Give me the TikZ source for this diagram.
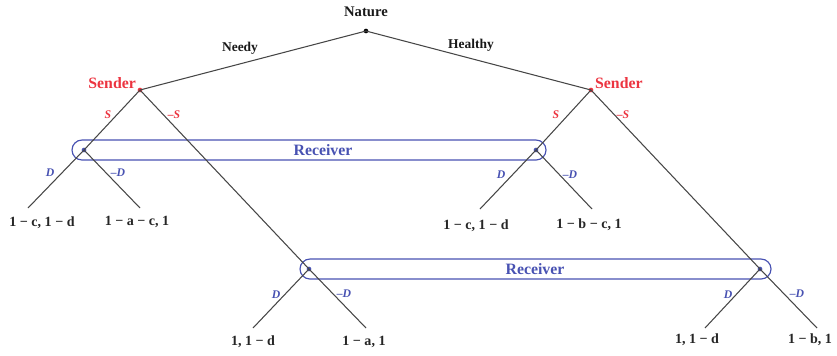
\documentclass[tikz,border=0pt]{standalone}
\usepackage{fontspec}
\setmainfont{Liberation Serif}
\usepackage{xcolor}
\usetikzlibrary{positioning, calc}

\definecolor{sendred}{RGB}{236,52,64}
\definecolor{recblue}{RGB}{72,82,178}
\definecolor{edgegray}{RGB}{70,70,70}

\begin{document}
\begin{tikzpicture}[x=0.03cm, y=-0.03cm,
    dot/.style={circle, inner sep=0pt, minimum size=4pt, fill=#1},
    edge/.style={draw=edgegray, line width=0.9pt},
    infoset/.style={draw=recblue, line width=1pt, rounded corners=0.3cm},
    payoff/.style={font=\fontsize{12}{14}\selectfont\bfseries, text=black!85},
    chance/.style={font=\fontsize{12.5}{14}\selectfont\bfseries, text=black!90},
    player/.style={font=\fontsize{13.5}{16}\selectfont\bfseries, text=#1},
    act/.style={font=\fontsize{10}{12}\selectfont\bfseries\itshape, text=#1},
]
\useasboundingbox (0,0) rectangle (837,355);

% decision nodes
\node[dot=black] (nat) at (366,31) {};
\node[dot=sendred] (sndL) at (140,90) {};
\node[dot=sendred] (sndR) at (591,90) {};
\node[dot=recblue] (rcvA) at (84,150) {};
\node[dot=recblue] (rcvB) at (536,150) {};
\node[dot=recblue] (rcvC) at (309,269) {};
\node[dot=recblue] (rcvD) at (760,269) {};

% leaves
\coordinate (lfA1) at (28,208);
\coordinate (lfA2) at (140,208);
\coordinate (lfB1) at (480,209);
\coordinate (lfB2) at (592,209);
\coordinate (lfC1) at (253,328);
\coordinate (lfC2) at (366,328);
\coordinate (lfD1) at (705,328);
\coordinate (lfD2) at (817,328);

% information sets
\draw[infoset] (72,140) rectangle (546,160);
\draw[infoset] (300,259) rectangle (771,279);

% edges
\draw[edge] (nat.center) -- (sndL.center);
\draw[edge] (nat.center) -- (sndR.center);
\draw[edge] (sndL.center) -- (rcvA.center);
\draw[edge] (sndL.center) -- (rcvC.center);
\draw[edge] (sndR.center) -- (rcvB.center);
\draw[edge] (sndR.center) -- (rcvD.center);
\draw[edge] (rcvA.center) -- (lfA1);
\draw[edge] (rcvA.center) -- (lfA2);
\draw[edge] (rcvB.center) -- (lfB1);
\draw[edge] (rcvB.center) -- (lfB2);
\draw[edge] (rcvC.center) -- (lfC1);
\draw[edge] (rcvC.center) -- (lfC2);
\draw[edge] (rcvD.center) -- (lfD1);
\draw[edge] (rcvD.center) -- (lfD2);

% players
\node[chance] (natlbl) at (366,12) {Nature};
\node[player=sendred, anchor=east] (sndLlbl) at (140,83) {Sender};
\node[player=sendred, anchor=west] (sndRlbl) at (591,83) {Sender};
\node[player=recblue] (rcvlblA) at (323,150) {Receiver};
\node[player=recblue] (rcvlblB) at (535,269) {Receiver};

% actions
\node[chance, font=\fontsize{11.5}{13}\selectfont\bfseries] at (240,48) {Needy};
\node[chance, font=\fontsize{11.5}{13}\selectfont\bfseries] at (471,45) {Healthy};
\node[act=sendred] at (108,115) {S};
\node[act=sendred] at (174,115) {--S};
\node[act=sendred] at (556,115) {S};
\node[act=sendred] at (623,115) {--S};
\node[act=recblue] at (50,173) {D};
\node[act=recblue] at (118,173) {--D};
\node[act=recblue] at (501,175) {D};
\node[act=recblue] at (570,175) {--D};
\node[act=recblue] at (276,295) {D};
\node[act=recblue] at (344,294) {--D};
\node[act=recblue] at (728,295) {D};
\node[act=recblue] at (797,294) {--D};

% payoffs
\node[payoff] (pA1) at (42,223) {1 − c, 1 − d};
\node[payoff] (pA2) at (137,222) {1 − a − c, 1};
\node[payoff] (pB1) at (476,226) {1 − c, 1 − d};
\node[payoff] (pB2) at (589,225) {1 − b − c, 1};
\node[payoff] (pC1) at (253,342) {1, 1 − d};
\node[payoff] (pC2) at (364,342) {1 − a, 1};
\node[payoff] (pD1) at (697,340) {1, 1 − d};
\node[payoff] (pD2) at (810,340) {1 − b, 1};
\end{tikzpicture}
\end{document}
